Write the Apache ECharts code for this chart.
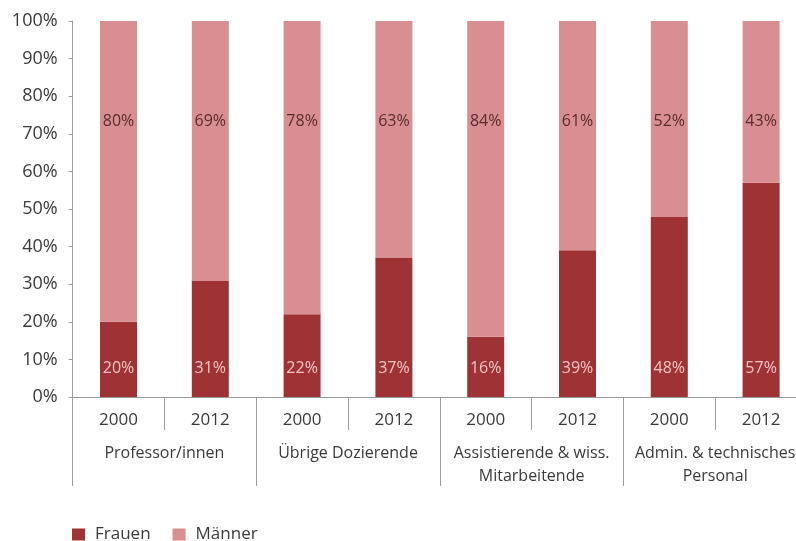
<!DOCTYPE html>
<html><head><meta charset="utf-8">
<script src="https://cdn.jsdelivr.net/npm/echarts@6/dist/echarts.min.js"></script>
<style>html,body{margin:0;padding:0;background:#fff;overflow:hidden}#c{width:810px;height:541px}</style>
</head><body><div id="c"></div>
<script>
const years = ['2000','2012','2000','2012','2000','2012','2000','2012'];
const groups = ['Professor/innen','Übrige Dozierende','Assistierende & wiss.\nMitarbeitende','Admin. & technisches\nPersonal'];
const frauen = [20,31,22,37,16,39,48,57];
const maenner = [80,69,78,63,84,61,52,43];

const FONT = 'Open Sans';
const axisGray = '#9a9a9a';
const textCol = '#3a3a3a';
const chart = echarts.init(document.getElementById('c'));
chart.setOption({
  animation:false,
  textStyle:{fontFamily:FONT},
  grid:{left:72.6,width:734.4,top:21,bottom:144,containLabel:false},
  legend:{left:72,top:526,padding:0,itemWidth:13,itemHeight:12,itemGap:22,icon:'rect',
    textStyle:{fontFamily:FONT,fontSize:17,color:textCol,padding:[0,0,0,5]},
    data:['Frauen','Männer']},
  xAxis:[
    {type:'category',data:years,position:'bottom',
     axisLine:{show:true,lineStyle:{color:axisGray,width:1}},
     axisTick:{show:true,interval:0,alignWithLabel:false,length:33,lineStyle:{color:axisGray}},
     axisLabel:{interval:0,margin:13,fontSize:17,color:textCol,lineHeight:20,fontFamily:FONT}},
    {type:'category',data:groups,position:'bottom',gridIndex:0,
     axisLine:{show:false},
     axisTick:{show:true,interval:0,alignWithLabel:false,length:89,lineStyle:{color:axisGray}},
     axisLabel:{interval:0,margin:45,fontSize:16,color:textCol,lineHeight:23,fontFamily:FONT}}
  ],
  yAxis:{type:'value',min:0,max:100,interval:10,
    axisLine:{show:true,lineStyle:{color:axisGray}},
    axisTick:{show:true,length:4,lineStyle:{color:axisGray}},
    splitLine:{show:false},
    axisLabel:{formatter:'{value}%',fontSize:18,color:textCol,margin:15,fontFamily:FONT}},
  series:[
    {name:'Frauen',type:'bar',stack:'a',data:frauen,barWidth:37,xAxisIndex:0,
     itemStyle:{color:'#9e3234'},
     label:{show:true,position:'insideBottom',distance:21,formatter:'{c}%',
       color:'#f2c4c4',fontSize:16,fontFamily:FONT}},
    {name:'Männer',type:'bar',stack:'a',data:maenner,barWidth:37,xAxisIndex:0,
     itemStyle:{color:'#d98f91'},
     label:{show:true,position:'insideTop',distance:92,formatter:'{c}%',
       color:'#5a2a2c',fontSize:16,fontFamily:FONT}}
  ]
});
</script></body></html>
